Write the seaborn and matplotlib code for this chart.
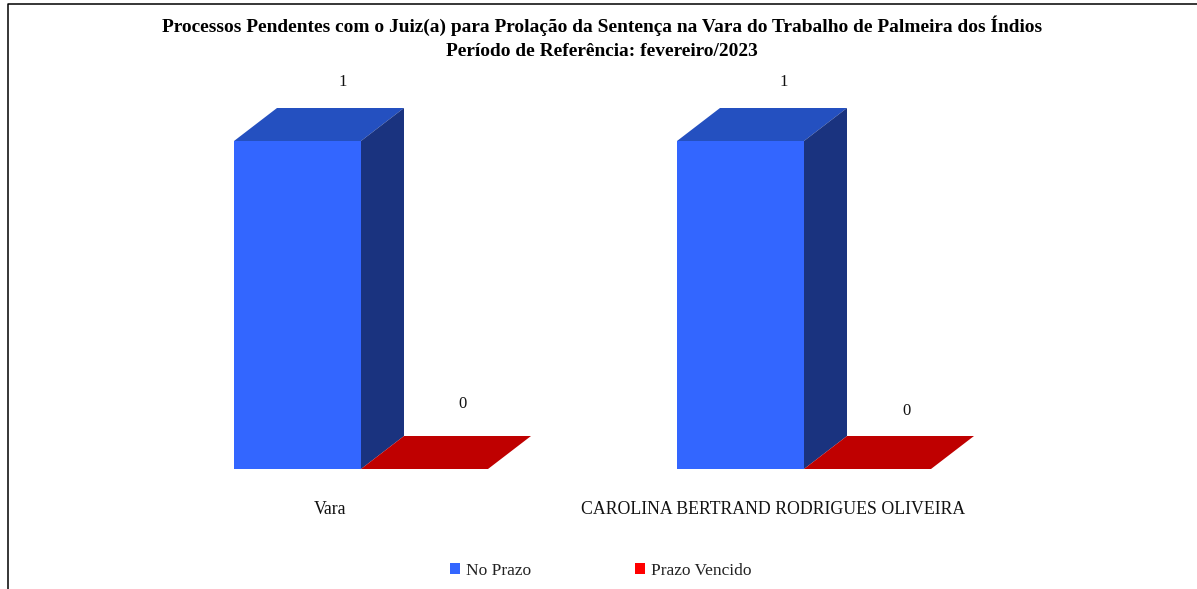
import matplotlib
matplotlib.use("Agg")
import matplotlib.pyplot as plt
from matplotlib.lines import Line2D
from matplotlib.patches import Patch
import pandas as pd
import seaborn as sns

categories = ["Vara", "CAROLINA BERTRAND RODRIGUES OLIVEIRA"]
series_names = ["No Prazo", "Prazo Vencido"]
no_prazo = [1, 1]
prazo_vencido = [0, 0]
title_lines = ["Processos Pendentes com o Juiz(a) para Prolação da Sentença na Vara do Trabalho de Palmeira dos Índios",
               "Período de Referência: fevereiro/2023"]
front_colors = ["#3366FF", "#FF0000"]
top_colors = ["#2450C0", "#BF0000"]
side_colors = ["#1A337F", "#7F0000"]

W, H = 1197, 589
sns.set_theme(style="white")
plt.rcParams["font.family"] = ["Liberation Serif", "DejaVu Serif"]

df = pd.DataFrame({
    "categoria": categories * 2,
    "serie": [series_names[0]] * 2 + [series_names[1]] * 2,
    "valor": no_prazo + prazo_vencido,
})

fig = plt.figure(figsize=(W / 100, H / 100), dpi=100, facecolor="white")
ax = fig.add_axes([139.5 / W, 1 - 469 / H, 886 / W, 328 / H])
sns.barplot(data=df, x="categoria", y="valor", hue="serie", hue_order=series_names,
            palette=front_colors, width=254 / 443, saturation=1, legend=False,
            linewidth=0, ax=ax, zorder=3)
ax.set_xlim(-0.5, 1.5)
ax.set_ylim(0, 1)
sns.despine(ax=ax, left=True, bottom=True, top=True, right=True)
ax.patch.set_alpha(0)

# pseudo-3D faces derived from each bar's own geometry
dx = 43 / 443
dy = 33 / 328
label_shift = [[(2, 26), (-5, 32)], [(0, 26), (-4, 25)]]
for s, cont in enumerate(ax.containers):
    for c, bar in enumerate(cont):
        x0, w, h = bar.get_x(), bar.get_width(), bar.get_height()
        x1 = x0 + w
        ax.fill([x0, x1, x1 + dx, x0 + dx], [h, h, h + dy, h + dy],
                color=top_colors[s], lw=0, clip_on=False, zorder=4)
        if h > 0:
            ax.fill([x1, x1 + dx, x1 + dx, x1], [0, dy, h + dy, h],
                    color=side_colors[s], lw=0, clip_on=False, zorder=4)
        ax.annotate(f"{h:.0f}", xy=(x0 + w / 2 + dx, h + dy),
                    xytext=label_shift[c][s],
                    textcoords="offset pixels", ha="center", va="center",
                    fontsize=12, color="#111111", annotation_clip=False)

ax.set_yticks([])
ax.set_xlabel("")
ax.set_ylabel("")
ax.set_xticks([i - 31 / 443 for i in range(len(categories))])
ax.set_xticklabels(categories, fontsize=12.75, color="#111111")
ax.tick_params(axis="x", length=0, pad=23)

fig.text(602 / W, 1 - 26 / H, title_lines[0], ha="center", va="center",
         fontsize=13.95, fontweight="bold", color="black")
fig.text(602 / W, 1 - 51 / H, title_lines[1], ha="center", va="center",
         fontsize=13.95, fontweight="bold", color="black")

handles = [Patch(facecolor=c, edgecolor="none") for c in front_colors]
fig.legend(handles, series_names, ncol=2, frameon=False, loc="center left",
           bbox_to_anchor=(450 / W, 1 - 571 / H), borderpad=0, borderaxespad=0,
           handlelength=0.6, handleheight=0.6, handletextpad=0.3,
           columnspacing=6.0, prop={"family": "Liberation Serif", "size": 12.5},
           labelcolor="#222222")

fig.add_artist(Line2D([7.5 / W, 7.5 / W, 1], [0, 1 - 3.7 / H, 1 - 3.7 / H],
                      color="black", lw=1.1, transform=fig.transFigure))
fig.savefig("out.png", dpi=100)
